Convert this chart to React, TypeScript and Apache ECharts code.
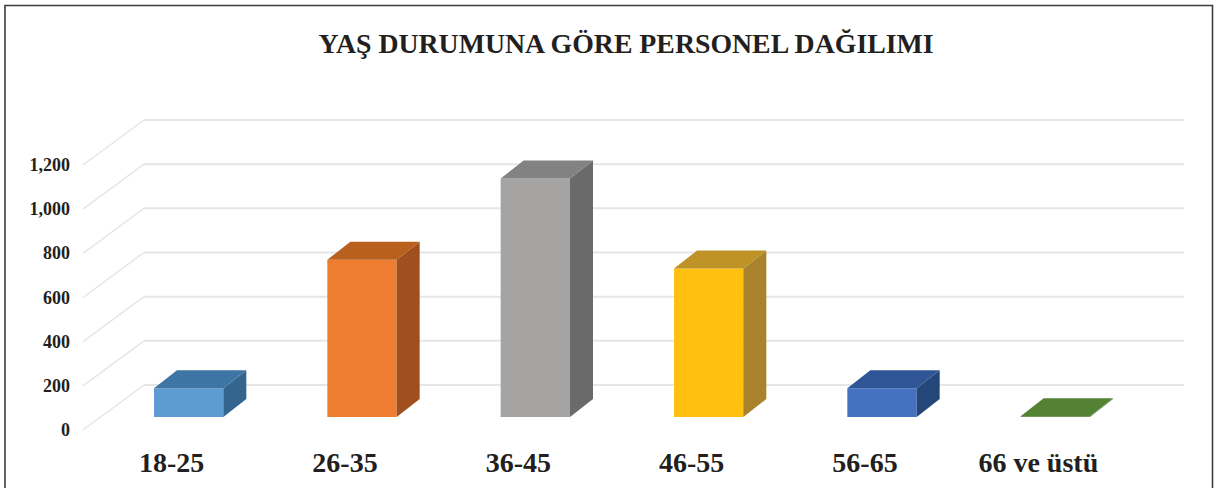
import React, { useEffect, useRef } from "react";
import * as echarts from "echarts";

const titleText = "YAŞ DURUMUNA GÖRE PERSONEL DAĞILIMI";
const categories = ["18-25", "26-35", "36-45", "46-55", "56-65", "66 ve üstü"];
const values = [130, 712, 1080, 672, 130, 3];
const ticks = [0, 200, 400, 600, 800, 1000, 1200];
const frontColors = ["#5E9BD3", "#EF7D31", "#A5A4A3", "#FFC010", "#4472C0", "#548235"];
const topColors = ["#3D75A5", "#B9601F", "#828282", "#BF9226", "#2F5596", "#548235"];
const sideColors = ["#33658F", "#A04F1E", "#6A6A6A", "#A8822C", "#254679", "#548235"];

const WALL_DX = 61;
const WALL_DY = 45;
const BAR_DX = 19;
const BAR_DY = 13;
const DEPTH_DX = 23;
const DEPTH_DY = 18;
const BAR_BAND = 0.4;

export default function App() {
  const ref = useRef<HTMLDivElement>(null);
  useEffect(() => {
    document.body.style.margin = "0";
    const chart = echarts.init(ref.current!, undefined, { renderer: "svg" });
    chart.setOption({
      animation: false,
      backgroundColor: "#ffffff",
      title: {
        text: titleText,
        left: 621,
        top: 24,
        textAlign: "center",
        textStyle: { fontFamily: "Liberation Serif", fontWeight: "bold", fontSize: 27.8, color: "#231f20" },
      },
      grid: { left: 83, right: 94, top: 165, bottom: 58, containLabel: false },
      xAxis: {
        type: "category",
        data: categories,
        axisLine: { show: false },
        axisTick: { show: false },
        splitLine: { show: false },
        axisLabel: {
          interval: 0,
          margin: 18,
          padding: [0, 0, 0, 4],
          fontFamily: "Liberation Serif",
          fontWeight: "bold",
          fontSize: 28,
          color: "#231f20",
        },
      },
      yAxis: {
        type: "value",
        min: 0,
        max: 1200,
        interval: 200,
        axisLine: { show: false },
        axisTick: { show: false },
        splitLine: { show: false },
        axisLabel: {
          margin: 13,
          padding: [4, 0, 0, 0],
          fontFamily: "Liberation Serif",
          fontWeight: "bold",
          fontSize: 18,
          color: "#231f20",
          formatter: (v: number) => v.toLocaleString("en-US"),
        },
      },
      series: [
        {
          type: "custom",
          silent: true,
          z: 1,
          data: ticks.map((t) => [0, t]),
          encode: { x: 0, y: 1 },
          renderItem: (params: any, api: any) => {
            const y = api.coord([0, api.value(1)])[1];
            const cs = params.coordSys;
            const x0 = cs.x;
            const x1 = cs.x + WALL_DX;
            const x2 = cs.x + cs.width + WALL_DX;
            const yb = y - WALL_DY;
            return {
              type: "group",
              children: [
                {
                  type: "line",
                  shape: { x1: x0, y1: y, x2: x1, y2: yb },
                  style: { stroke: "#e6e6e6", lineWidth: 1.5 },
                },
                {
                  type: "line",
                  shape: { x1, y1: yb, x2, y2: yb },
                  style: { stroke: "#e6e6e6", lineWidth: 2 },
                },
              ],
            };
          },
        },
        {
          type: "custom",
          silent: true,
          z: 2,
          data: values.map((v, i) => [i, v]),
          encode: { x: 0, y: 1 },
          renderItem: (_: any, api: any) => {
            const i = api.value(0);
            const top = api.coord([i, api.value(1)]);
            const base = api.coord([i, 0]);
            const w = api.size([1, 0])[0] * BAR_BAND;
            const l = top[0] + BAR_DX - w / 2;
            const r = l + w;
            const t = top[1] - BAR_DY;
            const b = base[1] - BAR_DY;
            return {
              type: "group",
              children: [
                {
                  type: "polygon",
                  shape: { points: [[l, b], [r, b], [r, t], [l, t]] },
                  style: { fill: frontColors[i] },
                },
                {
                  type: "polygon",
                  shape: { points: [[r, b], [r + DEPTH_DX, b - DEPTH_DY], [r + DEPTH_DX, t - DEPTH_DY], [r, t]] },
                  style: { fill: sideColors[i] },
                },
                {
                  type: "polygon",
                  shape: { points: [[l, t], [r, t], [r + DEPTH_DX, t - DEPTH_DY], [l + DEPTH_DX, t - DEPTH_DY]] },
                  style: { fill: topColors[i] },
                },
              ],
            };
          },
        },
      ],
      graphic: [
        {
          type: "polyline",
          silent: true,
          shape: { points: [[5, 488], [5, 5.5], [1212.5, 5.5], [1212.5, 488]] },
          style: { stroke: "#3c3c3c", lineWidth: 1.6, fill: "none" },
        },
      ],
    });
    return () => chart.dispose();
  }, []);
  return <div ref={ref} style={{ position: "fixed", left: 0, top: 0, width: 1217, height: 488 }} />;
}
